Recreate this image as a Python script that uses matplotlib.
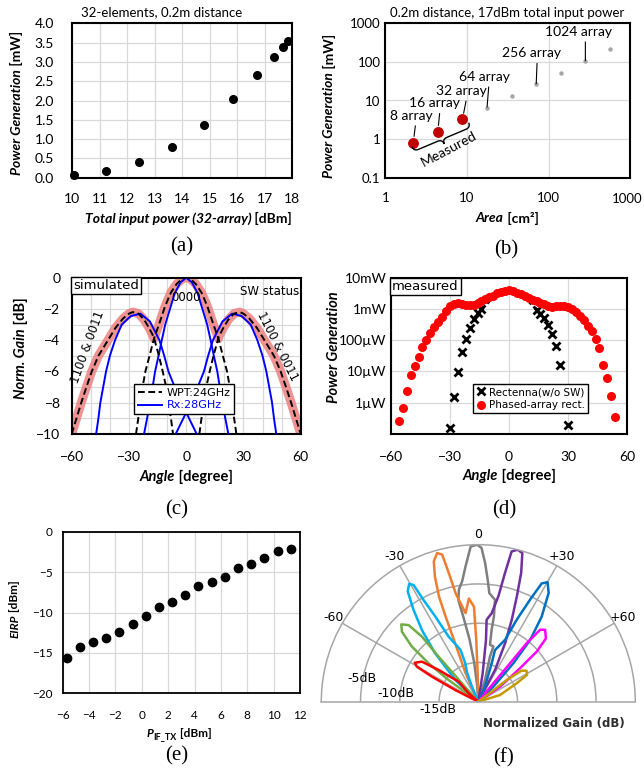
import numpy as np
import matplotlib
matplotlib.use("Agg")
import matplotlib.pyplot as plt
from matplotlib.path import Path
from matplotlib.patches import PathPatch
from matplotlib.lines import Line2D

W, H = 644, 773
plt.rcParams['font.family'] = ['Lato', 'DejaVu Sans']

# ---------------- data ----------------
# (a) power generation vs total input power, 32 elements
a_pin = [10.08, 11.25, 12.45, 13.63, 14.79, 15.85, 16.71, 17.32, 17.65, 17.85]
a_pgen = [0.07, 0.17, 0.40, 0.79, 1.37, 2.05, 2.66, 3.13, 3.38, 3.53]

# (b) power generation vs area
b_area = [2.2, 4.4, 8.8, 17.6, 35.2, 70.4, 140.8, 281.6, 563.2]
b_pgen = [0.81, 1.56, 3.25, 6.5, 12.8, 26.2, 52.6, 103.5, 212.0]
b_measured = [True, True, True, False, False, False, False, False, False]
b_names = ['8 array', '16 array', '32 array', '64 array', None, '256 array', None, '1024 array', None]

# (c) simulated patterns [deg, dB]
wpt_c_x = [-26.3, -25, -24.2, -23, -21.4, -19, -16.9, -14, -11, -8, -5, -2, 0,
           2, 5, 8, 11, 14, 16.9, 19, 21.4, 23, 24.2, 25, 26.3]
wpt_c_y = [-10, -8.9, -8, -7.1, -6, -4.9, -3.9, -2.9, -1.8, -0.95, -0.4, -0.05, 0,
           -0.05, -0.4, -0.95, -1.8, -2.9, -3.9, -4.9, -6, -7.1, -8, -8.9, -10]
wpt_l_x = [-60, -57.5, -55, -52.3, -49.5, -46, -41, -37, -33, -30, -28, -25, -22,
           -19.5, -17, -14.5, -12.3, -10.5, -9.3, -8, -6.9]
wpt_l_y = [-10, -9, -8, -7, -6, -5, -4, -3.2, -2.6, -2.3, -2.2, -2.3, -2.7,
           -3.2, -3.8, -4.9, -6, -7, -8, -9, -10]
wpt_r_x = [6.9, 8, 9.3, 10.5, 12.3, 14.5, 17, 19.5, 22, 25, 28, 30, 33,
           37, 41, 46, 49.5, 52.3, 55, 57.5, 60]
wpt_r_y = [-10, -9, -8, -7, -6, -4.9, -3.8, -3.2, -2.7, -2.3, -2.2, -2.3, -2.6,
           -3.2, -4, -5, -6, -7, -8, -9, -10]
rx_c_x = [-22.1, -20.5, -19, -17.6, -16.3, -14.5, -12.8, -11, -8.5, -6, -3, 0,
          3, 6, 8.5, 11, 12.8, 14.5, 16.3, 17.6, 19, 20.5, 22.1]
rx_c_y = [-10, -9, -8, -7, -6, -5, -4, -3, -2, -1, -0.3, 0,
          -0.3, -1, -2, -3, -4, -5, -6, -7, -8, -9, -10]
rx_l_x = [-47.2, -46, -45, -43.5, -42, -40, -37.3, -33.8, -29, -24, -19, -14,
          -11.5, -9.3, -6, -2.4, 1.5, 5.5]
rx_l_y = [-10, -9, -8, -7, -6, -5, -4, -3, -2.45, -2.3, -2.8, -4,
          -5, -6, -7, -8, -9, -10]
rx_r_x = [-5.5, -1.5, 2.4, 6, 9.3, 11.5, 14, 19, 24, 29, 33.8, 37.3,
          40, 42, 43.5, 45, 46, 47.2]
rx_r_y = [-10, -9, -8, -7, -6, -5, -4, -2.8, -2.3, -2.45, -3, -4,
          -5, -6, -7, -8, -9, -10]

# (d) measured power generation, log10 of mW
d_pa_ang = [-56, -54, -52, -50, -48, -46, -44, -42, -40, -38, -36, -34, -32, -30,
            -28, -26, -24, -22, -20, -18, -16, -14, -12, -10, -8, -6, -4, -2,
            0, 2, 4, 6, 8, 10, 12, 14, 16, 18, 20, 22, 24, 26, 28,
            30, 32, 34, 36, 38, 40, 42, 44, 46, 48, 50, 52, 54]
d_pa_log = [-3.58, -3.16, -2.61, -2.12, -1.82, -1.53, -1.23, -0.99, -0.78, -0.59, -0.41, -0.25, -0.07, 0.08,
            0.16, 0.18, 0.17, 0.14, 0.12, 0.14, 0.20, 0.24, 0.31, 0.37, 0.43, 0.50, 0.54, 0.58,
            0.60, 0.56, 0.52, 0.47, 0.42, 0.36, 0.30, 0.25, 0.20, 0.15, 0.09, 0.06, 0.08, 0.09, 0.08,
            0.05, -0.01, -0.10, -0.22, -0.36, -0.53, -0.72, -0.95, -1.25, -1.78, -2.20, -2.80, -3.45]
d_re_ang = [-30, -28, -26, -24, -22, -20, -18, -16, -14, -12, -10, -8, -6, -4, -2, 0,
            2, 4, 6, 8, 10, 12, 14, 16, 18, 20, 22, 24, 26, 28, 30]
d_re_log = [-3.82, -2.83, -2.03, -1.38, -0.97, -0.62, -0.33, -0.14, -0.01, 0.12, 0.25, 0.35, 0.43, 0.49, 0.53, 0.55,
            0.53, 0.49, 0.43, 0.35, 0.25, 0.12, -0.03, -0.15, -0.30, -0.50, -0.80, -1.20, -1.80, -2.70, -3.70]

# (e) EIRP vs IF power
e_pif = [-5.7, -4.7, -3.7, -2.7, -1.7, -0.7, 0.3, 1.3, 2.3, 3.3, 4.3, 5.3, 6.3, 7.3, 8.3, 9.3, 10.3, 11.3]
e_eirp = [-15.67, -14.31, -13.69, -13.11, -12.41, -11.46, -10.39, -9.28, -8.66, -7.88,
          -6.76, -6.19, -5.57, -4.54, -4.0, -3.26, -2.39, -2.19]

# (f) beam patterns: angle [deg], normalized gain [dB]
f_gray_ang = [0, -4, -6, -8, -10, -11.1, -9.8, -7.6, -5.4, -2.8, -0.4, 1.2, 2.8, 4.4, 5.8, 9.3, 10.4, 10.5, 11.6, 15.3, 14.5, 17.1, 0]
f_gray_db = [-20, -18, -15, -12, -9, -6.8, -5.5, -4.5, -2.7, -0.2, 0, -0.4, -2.3, -4.4, -6.1, -6.85, -9.0, -10.7, -12.6, -12.7, -14.1, -17.1, -20]
f_orange_ang = [0, -24, -21.5, -21, -20.5, -19.1, -17.6, -15.5, -13.8, -12.9, -11.8, -8.2, -5.2, -2.6, -1.9, -1.3, 0]
f_orange_db = [-20, -16, -11.5, -8.4, -5.7, -3.1, -1.25, -0.35, -0.7, -3.2, -5.9, -8.6, -6.8, -7.9, -12.1, -16.4, -20]
f_purple_ang = [0, 8.7, 7.1, 5.8, 8.6, 10.8, 11.7, 12.5, 14.5, 16.5, 18.4, 20.1, 22.2, 24.6, 27.8, 0]
f_purple_db = [-20, -16.3, -12.1, -9.5, -8.6, -6.3, -3.3, -0.4, 0, -0.25, -2.7, -5.7, -8.7, -11.8, -15.4, -20]
f_lblue_ang = [0, -46.7, -41.7, -38.2, -35.2, -32.6, -30.4, -29, -28.3, -26.8, -24.5, -19, -18.7, -21, -23, 0]
f_lblue_db = [-20, -16, -11.7, -8.4, -5.7, -3.3, -2.6, -3.0, -5.3, -7.8, -10.9, -13, -14.8, -16, -17.9, -20]
f_blue_ang = [0, 24, 19.2, 17.9, 23.4, 25.1, 26.9, 28.2, 30.1, 32.9, 36.7, 40, 42.4, 45, 0]
f_blue_db = [-20, -17.9, -14.8, -13.1, -11.4, -8.5, -5.4, -2.9, -2.4, -3.5, -6.5, -9.7, -13.4, -17.3, -20]
f_green_ang = [0, -53.9, -52.3, -50.3, -47.5, -44.9, -42.3, -40.9, -41.4, -41.7, 0]
f_green_db = [-20, -15.3, -12, -9.0, -6.8, -6.1, -6.8, -9.0, -12.3, -16.9, -20]
f_mag_ang = [0, 39.3, 39.6, 39.6, 40.7, 42.9, 46.9, 49.4, 51.3, 55.3, 0]
f_mag_db = [-20, -17, -13.7, -10.3, -7.9, -7.5, -8.2, -10.2, -13.2, -16.6, -20]
f_red_ang = [0, -63.1, -61.6, -60.3, -58.5, -54.6, -51.4, -44.5, -49, 0]
f_red_db = [-20, -16.7, -13.3, -11.0, -10.5, -11.2, -13.5, -16.4, -18.4, -20]
f_gold_ang = [0, 53, 52.6, 54.4, 57.3, 61.1, 64.4, 72.9, 0]
f_gold_db = [-20, -17.9, -15.4, -13.2, -12.7, -12.9, -14.6, -17.1, -20]

# ---------------- helpers ----------------
fig = plt.figure(figsize=(W / 100, H / 100), dpi=100)
rend = fig.canvas.get_renderer()


def frac(x, y):
    return x / W, 1 - y / H


def rect(l, t, r, b):
    return [l / W, 1 - b / H, (r - l) / W, (b - t) / H]


def excel_style(ax, lw=1.5):
    for s in ax.spines.values():
        s.set_linewidth(lw)
        s.set_color('black')
    ax.tick_params(length=0, which='both')
    ax.set_axisbelow(True)


def mixed(x, y, parts, size, rot=0):
    # parts: (text, fontstyle[, size, dy_px]) drawn bold and centred at x, y (pixels)
    items = []
    for p in parts:
        sz = p[2] if len(p) > 2 else size
        dy = p[3] if len(p) > 3 else 0
        t = fig.text(0, 0, p[0], fontsize=sz, fontweight='bold', fontstyle=p[1],
                     rotation=rot, rotation_mode='anchor', ha='left', va='center')
        bb = t.get_window_extent(rend)
        items.append((t, bb.width if rot == 0 else bb.height, dy))
    pos = -sum(w for _, w, _ in items) / 2
    for t, w, dy in items:
        if rot == 0:
            t.set_position(frac(x + pos, y + dy))
        else:
            t.set_position(frac(x + dy, y - pos))
        pos += w


def panel_letter(x, y, s):
    fig.text(*frac(x, y), s, family='Liberation Serif', fontsize=15, ha='center', va='center')


# ---------------- (a) ----------------
ax = fig.add_axes(rect(72, 23.3, 292.3, 177.7))
ax.plot(a_pin, a_pgen, 'o', color='black', ms=5.5, clip_on=False, zorder=3)
ax.set_xlim(10, 18)
ax.set_ylim(0, 4)
ax.set_xticks(range(10, 19))
ax.set_yticks(np.arange(0, 4.01, 0.5))
ax.set_yticklabels([f'{v:.1f}' for v in np.arange(0, 4.01, 0.5)])
ax.grid(color='#D9D9D9', lw=0.9)
excel_style(ax)
ax.tick_params(axis='x', pad=11, labelsize=10)
ax.tick_params(axis='y', pad=13, labelsize=10)
fig.text(*frac(161.7, 11.7), '32-elements, 0.2m distance', fontsize=9.5, ha='center', va='center')
mixed(188.3, 218.3, [('Total input power (32-array)', 'italic'), (' [dBm]', 'normal')], 10)
mixed(16.7, 103.3, [('Power Generation', 'italic'), (' [mW]', 'normal')], 10, rot=90)
panel_letter(182, 247, '(a)')

# ---------------- (b) ----------------
ax = fig.add_axes(rect(385.3, 23.3, 630.3, 177.7))
ax.set_xscale('log')
ax.set_yscale('log')
meas = np.array(b_measured)
xa, ya = np.array(b_area), np.array(b_pgen)
ax.plot(xa[~meas], ya[~meas], 'o', color='#A6A6A6', ms=2.2, zorder=3)
ax.plot(xa[meas], ya[meas], 'o', color='#C00000', ms=6.8, zorder=3)
ax.set_xlim(1, 1000)
ax.set_ylim(0.1, 1000)
ax.set_xticks([1, 10, 100, 1000])
ax.set_xticklabels(['1', '10', '100', ''])
ax.set_yticks([0.1, 1, 10, 100, 1000])
ax.set_yticklabels(['0.1', '1', '10', '100', '1000'])
ax.minorticks_off()
ax.grid(color='#D9D9D9', lw=0.9)
excel_style(ax)
ax.tick_params(axis='x', pad=10, labelsize=9.5)
ax.tick_params(axis='y', pad=3.5, labelsize=9.5)
# last x label nudged inward so it stays inside the picture
ax.text(0.987, -0.137, '1000', transform=ax.transAxes, ha='center', va='center', fontsize=9.5)
offsets = [(-1.2, 19.4), (-2.1, 20.4), (-0.5, 20.4), (-2.2, 22.3), None, (-3.5, 22.4), None, (-4.8, 21.3), None]
for xv, yv, name, off, m in zip(b_area, b_pgen, b_names, offsets, b_measured):
    if name is None:
        continue
    ax.annotate(name, xy=(xv, yv), xytext=off, textcoords='offset points',
                ha='center', va='center', fontsize=10,
                arrowprops=dict(arrowstyle='-', color='black', lw=0.8, relpos=(0.6, 0.0),
                                shrinkA=1, shrinkB=4.5 if m else 0.5))
# curly brace under the measured points
p0 = ax.transData.transform((2.12, 0.635))
p1 = ax.transData.transform((10.5, 2.66))
tv = (p1 - p0) / np.hypot(*(p1 - p0))
nv = np.array([tv[1], -tv[0]])
hb, rd = 5.0, 5.0
mid = (p0 + p1) / 2
codes = [Path.MOVETO, Path.CURVE3, Path.CURVE3, Path.LINETO, Path.CURVE3, Path.CURVE3,
         Path.CURVE3, Path.CURVE3, Path.LINETO, Path.CURVE3, Path.CURVE3]
verts = [p0, p0 + nv * hb, p0 + nv * hb + tv * rd,
         mid + nv * hb - tv * rd, mid + nv * hb, mid + nv * 2 * hb,
         mid + nv * hb, mid + nv * hb + tv * rd,
         p1 + nv * hb - tv * rd, p1 + nv * hb, p1]
fig.add_artist(PathPatch(Path(verts, codes), fc='none', ec='black', lw=1.0,
                         transform=matplotlib.transforms.IdentityTransform()))
ax.text(5.96, 0.54, 'Measured', rotation=28, ha='center', va='center', fontsize=10)
fig.text(*frac(507, 12.7), '0.2m distance, 17dBm total input power', fontsize=9.5, ha='center', va='center')
mixed(507, 218.3, [('Area', 'italic'), (' [cm²]', 'normal')], 10)
mixed(329.3, 106, [('Power Generation', 'italic'), (' [mW]', 'normal')], 10, rot=90)
panel_letter(506, 250, '(b)')

# ---------------- (c) ----------------
ax = fig.add_axes(rect(71.7, 277.7, 300.7, 434))
lx, ly = np.array(wpt_l_x), np.array(wpt_l_y)
cx, cy = np.array(wpt_c_x), np.array(wpt_c_y)
rx, ry = np.array(wpt_r_x), np.array(wpt_r_y)
env_x = np.concatenate([lx[lx <= -17], cx[(cx > -17) & (cx < 17)], rx[rx >= 17]])
env_y = np.concatenate([ly[lx <= -17], cy[(cx > -17) & (cx < 17)], ry[rx >= 17]])
ax.plot(env_x, env_y, color='#EE8080', lw=6.5, alpha=0.85, solid_joinstyle='round', zorder=2)
for xs, ys in [(rx_l_x, rx_l_y), (rx_c_x, rx_c_y), (rx_r_x, rx_r_y)]:
    ax.plot(xs, ys, color='#0000FF', lw=1.4, zorder=3)
for xs, ys in [(wpt_l_x, wpt_l_y), (wpt_c_x, wpt_c_y), (wpt_r_x, wpt_r_y)]:
    ax.plot(xs, ys, color='black', lw=1.4, ls=(0, (3.5, 1.8)), zorder=4)
ax.set_xlim(-60, 60)
ax.set_ylim(-10, 0)
ax.set_xticks([-60, -30, 0, 30, 60])
ax.set_xticks(range(-60, 61, 10), minor=True)
ax.set_yticks(range(-10, 1, 2))
ax.set_yticks(range(-10, 1, 1), minor=True)
ax.grid(which='both', color='#D9D9D9', lw=0.9)
excel_style(ax)
ax.tick_params(axis='x', pad=12, labelsize=10)
ax.tick_params(axis='y', pad=8, labelsize=10)
ax.text(0.006, 0.99, 'simulated', transform=ax.transAxes, ha='left', va='top', family='DejaVu Sans',
        fontsize=9.5, bbox=dict(boxstyle='square,pad=0.15', fc='white', ec='black', lw=1), zorder=6)
ax.text(0, -1.25, '0000', ha='center', va='center', family='DejaVu Sans', fontsize=8.5, zorder=6)
ax.text(43.6, -0.9, 'SW status', ha='center', va='center', family='DejaVu Sans', fontsize=8.5)
ax.text(-51.8, -4.46, '1100 & 0011', rotation=70, ha='center', va='center', family='DejaVu Sans', fontsize=8.5)
ax.text(47.8, -4.37, '1100 & 0011', rotation=-63, ha='center', va='center', family='DejaVu Sans', fontsize=8.5)
hdl = [Line2D([], [], color='black', lw=1.4, ls=(0, (3.5, 1.8))), Line2D([], [], color='#0000FF', lw=1.4)]
leg = ax.legend(hdl, ['WPT:24GHz', 'Rx:28GHz'], loc='upper left', bbox_to_anchor=(0.273, 0.318),
                borderaxespad=0, prop=dict(family='DejaVu Sans', size=8), labelcolor=['black', '#0000FF'],
                fancybox=False, framealpha=1, edgecolor='black', borderpad=0.3, handlelength=2.2,
                handletextpad=0.4, labelspacing=0.25)
leg.get_frame().set_linewidth(1.0)
leg.set_zorder(7)
mixed(186.7, 476.7, [('Angle', 'italic'), (' [degree]', 'normal')], 10.5)
mixed(20.7, 348.3, [('Norm. Gain', 'italic'), (' [dB]', 'normal')], 10.5, rot=90)
panel_letter(177, 510, '(c)')

# ---------------- (d) ----------------
ax = fig.add_axes(rect(391, 277.7, 627, 434))
ax.set_yscale('log')
re_a, re_v = np.array(d_re_ang), 10 ** np.array(d_re_log)
outer = np.abs(re_a) >= 14
inner = np.abs(re_a) <= 14
ax.plot(re_a[inner], re_v[inner], ls=':', color='black', lw=2.2, zorder=3)
ax.plot(re_a[outer], re_v[outer], 'x', color='black', ms=6, mew=2, zorder=3)
ax.plot(d_pa_ang, 10 ** np.array(d_pa_log), 'o', color='#FF0000', ms=6.5, mec='none', zorder=4)
ax.set_xlim(-60, 60)
ax.set_ylim(1e-4, 10)
ax.set_xticks([-60, -30, 0, 30, 60])
ax.set_yticks([1e-3, 1e-2, 1e-1, 1, 10])
ax.set_yticklabels(['1µW', '10µW', '100µW', '1mW', '10mW'])
ax.minorticks_off()
ax.grid(color='#D9D9D9', lw=0.9)
excel_style(ax)
ax.tick_params(axis='x', pad=12, labelsize=10)
ax.tick_params(axis='y', pad=3, labelsize=10)
ax.text(0.005, 0.985, 'measured', transform=ax.transAxes, ha='left', va='top', family='DejaVu Sans',
        fontsize=9.5, bbox=dict(boxstyle='square,pad=0.15', fc='white', ec='black', lw=1), zorder=6)
hdl = [Line2D([], [], ls='none', marker='x', color='black', ms=6, mew=2),
       Line2D([], [], ls='none', marker='o', color='#FF0000', ms=6.5, mec='none')]
leg = ax.legend(hdl, ['Rectenna(w/o SW)', 'Phased-array rect.'], loc='upper left',
                bbox_to_anchor=(0.346, 0.32), borderaxespad=0, prop=dict(family='DejaVu Sans', size=7.5),
                fancybox=False, framealpha=1, edgecolor='black', borderpad=0.3, handlelength=1.0,
                handletextpad=0.3, labelspacing=0.3)
leg.get_frame().set_linewidth(1.0)
leg.set_zorder(7)
mixed(509.3, 476, [('Angle', 'italic'), (' [degree]', 'normal')], 10.5)
mixed(333.7, 347.3, [('Power Generation', 'italic')], 10.5, rot=90)
panel_letter(504, 510, '(d)')

# ---------------- (e) ----------------
ax = fig.add_axes(rect(62.7, 531.7, 300, 693.3))
ax.plot(e_pif, e_eirp, 'o', color='black', ms=6.0, clip_on=False, zorder=3)
ax.set_xlim(-6, 12)
ax.set_ylim(-20, 0)
ax.set_xticks(range(-6, 13, 2))
ax.set_yticks(range(-20, 1, 5))
ax.grid(color='#D9D9D9', lw=0.9)
excel_style(ax, lw=1.3)
ax.tick_params(axis='x', pad=12, labelsize=8.5)
ax.tick_params(axis='y', pad=7, labelsize=8.5)
mixed(179, 733.3, [('P', 'italic'), ('IF_TX', 'normal', 6.5, 3), (' [dBm]', 'normal')], 8.5)
mixed(15, 609, [('EIRP', 'italic'), (' [dBm]', 'normal')], 8.5, rot=90)
panel_letter(177, 756, '(e)')

# ---------------- (f) ----------------
R = 157
cxp, cyp = 478.3, 701.7
# the polar wedge bbox is squared by matplotlib: half disc sits in the lower-middle of a 2R x 2R box
ax = fig.add_axes(rect(cxp - R, cyp - 1.5 * R, cxp + R, cyp + 0.5 * R), projection='polar')
ax.set_theta_zero_location('N')
ax.set_theta_direction(-1)
ax.set_thetamin(-90)
ax.set_thetamax(90)
ax.set_rlim(0, 20)
ax.set_yticks([5, 10, 15])
ax.set_yticklabels([])
ax.set_xticks(np.deg2rad([-60, -30, 0, 30, 60]))
ax.set_xticklabels(['-60', '-30', '0', '+30', '+60'], family='DejaVu Sans', fontsize=9)
ax.tick_params(axis='x', pad=-3)
ax.grid(color='#A6A6A6', lw=1.1)
ax.xaxis.get_gridlines()[2].set_visible(False)
for s in ax.spines.values():
    s.set_color('#A6A6A6')
    s.set_linewidth(1.1)
lobes = [(f_gray_ang, f_gray_db, '#7F7F7F'), (f_orange_ang, f_orange_db, '#ED7D31'),
         (f_purple_ang, f_purple_db, '#7030A0'), (f_lblue_ang, f_lblue_db, '#00B0F0'),
         (f_blue_ang, f_blue_db, '#0070C0'), (f_green_ang, f_green_db, '#70AD47'),
         (f_mag_ang, f_mag_db, '#FF00FF'), (f_red_ang, f_red_db, '#FF0000'),
         (f_gold_ang, f_gold_db, '#C59A00')]
for angs, dbs, col in lobes:
    ax.plot(np.deg2rad(angs), np.array(dbs) + 20, color=col, lw=1.8, solid_joinstyle='round')
for a, r, s in [(-78.5, 15.08, '-5dB'), (-84, 10.6, '-10dB'), (-101.4, 5.3, '-15dB')]:
    ax.text(np.deg2rad(a), r, s, ha='center', va='center', family='DejaVu Sans', fontsize=9)
fig.text(*frac(553.7, 723.3), 'Normalized Gain (dB)', family='DejaVu Sans', fontweight='bold',
         fontsize=8.5, color='#303030', ha='center', va='center')
panel_letter(504, 758, '(f)')

fig.savefig('out.png', dpi=100)
